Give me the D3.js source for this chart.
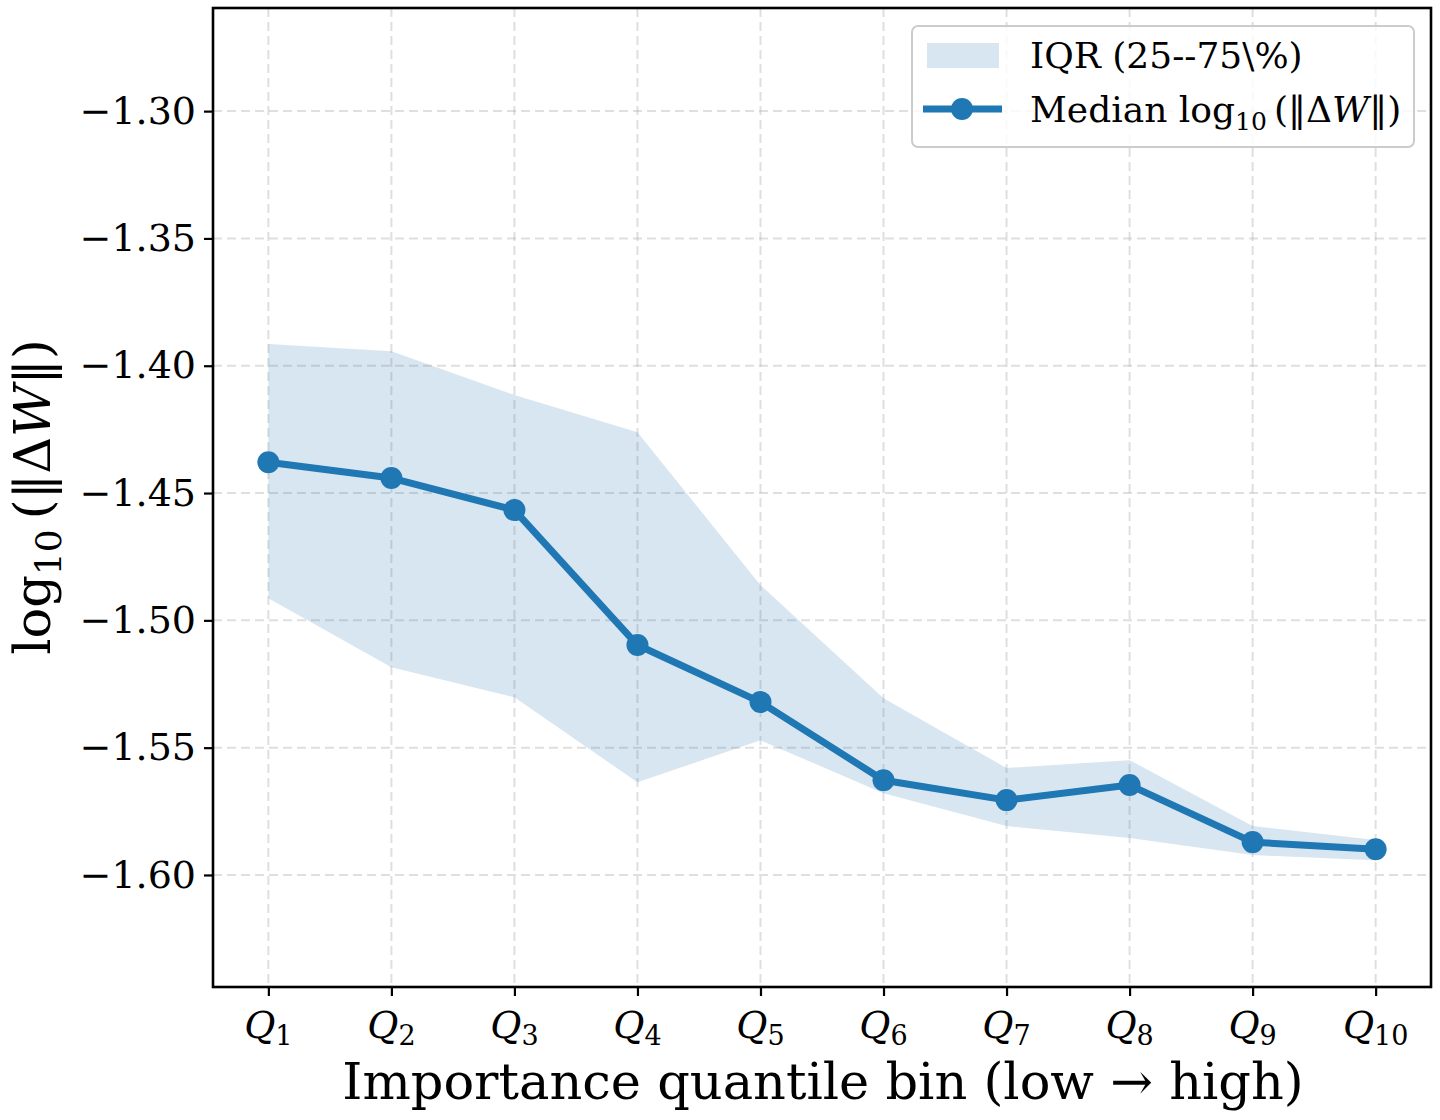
<!DOCTYPE html>
<html>
<head>
<meta charset="utf-8">
<script src="https://cdn.jsdelivr.net/npm/d3@7"></script>
<style>
  body { margin: 0; background: #fff; }
  svg { font-family: "DejaVu Serif", serif; }
</style>
</head>
<body>
<div id="chart"></div>
<script>
const bins = [1, 2, 3, 4, 5, 6, 7, 8, 9, 10];
const median = [-1.4379, -1.4441, -1.4567, -1.5097, -1.5321, -1.5628, -1.5706, -1.5647, -1.5871, -1.5899];
const q75 = [-1.3915, -1.3943, -1.4115, -1.4261, -1.4862, -1.5306, -1.5580, -1.5549, -1.5808, -1.5863];
const q25 = [-1.4913, -1.5184, -1.5302, -1.5636, -1.5471, -1.5679, -1.5808, -1.5855, -1.5922, -1.5942];
const yTicks = [-1.30, -1.35, -1.40, -1.45, -1.50, -1.55, -1.60];

const width = 1440, height = 1120;
const m = {left: 213, right: 1431, top: 8, bottom: 987};
const blue = "#1f77b4";

const svg = d3.select("#chart").append("svg")
  .attr("width", width).attr("height", height);

const x = d3.scaleLinear().domain([0.55, 10.45]).range([m.left, m.right]);
const y = d3.scaleLinear().domain([-1.6440, -1.2595]).range([m.bottom, m.top]);

// grid
const grid = svg.append("g").attr("stroke", "#b0b0b0").attr("stroke-opacity", 0.4)
  .attr("stroke-width", 2).attr("stroke-dasharray", "9,5");
grid.selectAll(".gx").data(bins).enter().append("line")
  .attr("x1", d => x(d)).attr("x2", d => x(d)).attr("y1", m.top).attr("y2", m.bottom);
grid.selectAll(".gy").data(yTicks).enter().append("line")
  .attr("y1", d => y(d)).attr("y2", d => y(d)).attr("x1", m.left).attr("x2", m.right);

// IQR band
const rows = bins.map((b, i) => ({b, lo: q25[i], hi: q75[i], med: median[i]}));
svg.append("path").datum(rows)
  .attr("fill", blue).attr("fill-opacity", 0.18)
  .attr("d", d3.area().x(d => x(d.b)).y0(d => y(d.lo)).y1(d => y(d.hi)));

// median line
svg.append("path").datum(rows)
  .attr("fill", "none").attr("stroke", blue).attr("stroke-width", 7)
  .attr("stroke-linejoin", "round")
  .attr("d", d3.line().x(d => x(d.b)).y(d => y(d.med)));
svg.selectAll(".dot").data(rows).enter().append("circle")
  .attr("cx", d => x(d.b)).attr("cy", d => y(d.med)).attr("r", 11).attr("fill", blue);

// spines
svg.append("rect").attr("x", m.left).attr("y", m.top)
  .attr("width", m.right - m.left).attr("height", m.bottom - m.top)
  .attr("fill", "none").attr("stroke", "#000").attr("stroke-width", 2.6);

// y axis
const yAxis = svg.append("g").attr("transform", `translate(${m.left},0)`)
  .call(d3.axisLeft(y).tickValues(yTicks).tickSize(9).tickPadding(8)
    .tickFormat(d => "\u2212" + Math.abs(d).toFixed(2)));
yAxis.select(".domain").remove();
yAxis.selectAll("line").attr("stroke-width", 2.2);
yAxis.selectAll("text").attr("font-size", 38).attr("font-family", "DejaVu Serif").attr("fill", "#000");

// x axis
const xAxis = svg.append("g").attr("transform", `translate(0,${m.bottom})`)
  .call(d3.axisBottom(x).tickValues(bins).tickSize(9).tickFormat(""));
xAxis.select(".domain").remove();
xAxis.selectAll("line").attr("stroke-width", 2.2);
const xl = svg.append("g").selectAll("text").data(bins).enter().append("text")
  .attr("x", d => x(d)).attr("y", 1038).attr("text-anchor", "middle")
  .attr("font-size", 38);
xl.append("tspan").attr("font-style", "italic").text("Q");
xl.append("tspan").attr("font-size", 27).attr("dy", 7).text(d => d);

// axis labels
svg.append("text").attr("x", 823).attr("y", 1099).attr("text-anchor", "middle")
  .attr("font-size", 51).text("Importance quantile bin (low \u2192 high)");
const yl = svg.append("text").attr("transform", "translate(50,497) rotate(-90)")
  .attr("text-anchor", "middle").attr("font-size", 51);
yl.append("tspan").text("log");
yl.append("tspan").attr("font-size", 36).attr("dy", 11).text("10");
yl.append("tspan").attr("dy", -11).text("\u2009(\u2016\u0394");
yl.append("tspan").attr("font-style", "italic").text("W");
yl.append("tspan").text("\u2016)");

// legend
const lg = svg.append("g");
lg.append("rect").attr("x", 912).attr("y", 26).attr("width", 502).attr("height", 121)
  .attr("rx", 6).attr("fill", "#fff").attr("fill-opacity", 0.8)
  .attr("stroke", "#ccc").attr("stroke-width", 2);
lg.append("rect").attr("x", 927).attr("y", 43).attr("width", 72).attr("height", 25)
  .attr("fill", blue).attr("fill-opacity", 0.18);
lg.append("text").attr("x", 1030).attr("y", 68).attr("font-size", 36).text("IQR (25--75\\%)");
lg.append("line").attr("x1", 923).attr("x2", 1002).attr("y1", 109).attr("y2", 109)
  .attr("stroke", blue).attr("stroke-width", 7);
lg.append("circle").attr("cx", 962).attr("cy", 109).attr("r", 11).attr("fill", blue);
const lt = lg.append("text").attr("x", 1030).attr("y", 122).attr("font-size", 36);
lt.append("tspan").text("Median log");
lt.append("tspan").attr("font-size", 25).attr("dy", 8).text("10");
lt.append("tspan").attr("dy", -8).text("\u2009(\u2016\u0394");
lt.append("tspan").attr("font-style", "italic").text("W");
lt.append("tspan").text("\u2016)");
</script>
</body>
</html>
